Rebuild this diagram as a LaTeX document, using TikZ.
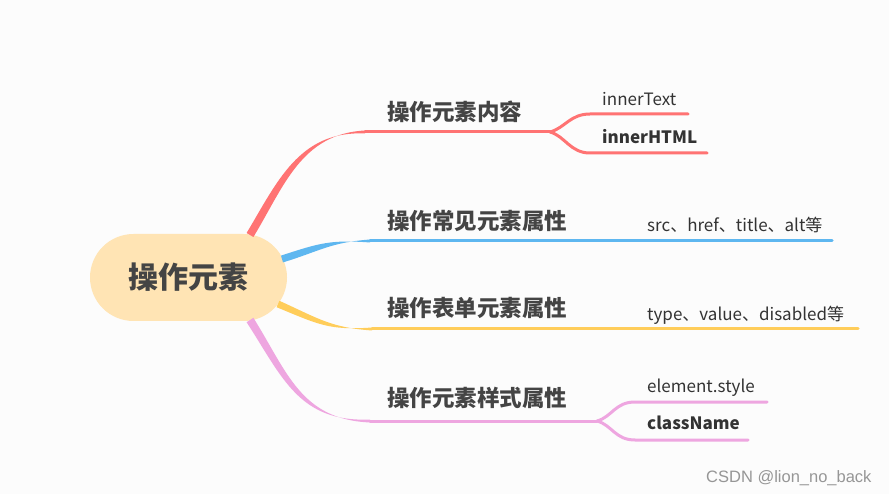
\documentclass[tikz,border=0pt]{standalone}
\usepackage{fontspec}
\setmainfont{Noto Sans CJK SC}
\newfontfamily\wmfont{Liberation Sans}
\definecolor{bg}{RGB}{252,252,252}
\definecolor{rootfill}{RGB}{255,228,180}
\definecolor{txt}{RGB}{68,68,68}
\definecolor{ctxt}{RGB}{51,51,51}
\definecolor{cred}{RGB}{255,115,115}
\definecolor{cblue}{RGB}{94,183,240}
\definecolor{cyellow}{RGB}{255,205,90}
\definecolor{cpink}{RGB}{238,166,224}
\definecolor{wm}{RGB}{150,150,150}
\tikzset{
  rootbox/.style={fill=rootfill, rounded corners=43.5pt, minimum width=197pt, minimum height=87pt, inner sep=0pt, text=txt, font=\fontsize{30}{30}\selectfont\bfseries},
  topic/.style={anchor=west, inner sep=0pt, text=txt, font=\fontsize{22.5}{22.5}\selectfont\bfseries},
  leaf/.style={anchor=base west, inner sep=0pt, text=ctxt, font=\fontsize{17}{17}\selectfont},
  leafb/.style={leaf, font=\fontsize{17}{17}\selectfont\bfseries},
  branchline/.style={line width=3pt, line cap=round},
}
\begin{document}
\begin{tikzpicture}[x=1pt,y=-1pt]
\fill[bg] (0,0) rectangle (889,494);
\useasboundingbox (0,0) rectangle (889,494);

% root
\node[rootbox] (root) at (188.5,277.5) {操作元素};

% labels
\node[topic] (t1) at (387,111.5) {操作元素内容};
\node[topic] (t2) at (387,220.5) {操作常见元素属性};
\node[topic] (t3) at (387,307.5) {操作表单元素属性};
\node[topic] (t4) at (387,398) {操作元素样式属性};

\node[leaf]  (l1a) at (602,106) {innerText};
\node[leafb] (l1b) at (602,144) {innerHTML};
\node[leaf]  (l2a) at (647,232) {src、href、title、alt等};
\node[leaf]  (l3a) at (647,320) {type、value、disabled等};
\node[leaf]  (l4a) at (647,392) {element.style};
\node[leafb] (l4b) at (647,429) {className};

% coordinates
\coordinate (r1) at (365,132);
\coordinate (f1) at (550,132);
\coordinate (e1a) at (688,114);
\coordinate (e1b) at (707,153);
\coordinate (r2) at (370,241);
\coordinate (e2) at (832,241);
\coordinate (r3) at (372,329);
\coordinate (e3) at (858,329);
\coordinate (r4) at (370,421);
\coordinate (f4) at (597,421);
\coordinate (e4a) at (767,402);
\coordinate (e4b) at (748,440);

% red branch (tapered)
\fill[cred] (246.6,233) .. controls (277,182.5) and (299,130.4) .. ([yshift=-1.5pt]r1)
  -- ([yshift=1.5pt]r1) .. controls (301,133.6) and (283.5,187.5) .. (253.4,237) -- cycle;
\draw[cred, branchline] (r1) -- (f1);
\draw[cred, branchline] (f1) .. controls (565,128) and (570,114) .. (590,114) -- (e1a);
\draw[cred, branchline] (f1) .. controls (565,136) and (570,153) .. (590,153) -- (e1b);

% blue branch
\fill[cblue] (281,255.6) .. controls (319,243.3) and (330,239.5) .. ([yshift=-1.5pt]r2)
  -- ([yshift=1.5pt]r2) .. controls (330,242.5) and (321,250.7) .. (283,262.4) -- cycle;
\draw[cblue, branchline] (r2) -- (e2);

% yellow branch
\fill[cyellow] (279.4,300.8) .. controls (320,319.3) and (331,327.5) .. ([yshift=-1.5pt]r3)
  -- ([yshift=1.5pt]r3) .. controls (329,330.5) and (319,324.7) .. (276.6,307.2) -- cycle;
\draw[cyellow, branchline] (r3) -- (e3);

% pink branch
\fill[cpink] (253.4,317.8) .. controls (287.5,372.5) and (301,419.5) .. ([yshift=-1.5pt]r4)
  -- ([yshift=1.5pt]r4) .. controls (299,422.5) and (282.5,377.5) .. (246.6,322.2) -- cycle;
\draw[cpink, branchline] (r4) -- (f4);
\draw[cpink, branchline] (f4) .. controls (612,417) and (615,402) .. (635,402) -- (e4a);
\draw[cpink, branchline] (f4) .. controls (612,425) and (615,440) .. (635,440) -- (e4b);

% watermark
\node[anchor=base west, inner sep=0pt, text=wm, font=\wmfont\fontsize{16.5}{16.5}\selectfont] (wmk) at (706,482) {CSDN @lion\_no\_back};
\end{tikzpicture}
\end{document}
